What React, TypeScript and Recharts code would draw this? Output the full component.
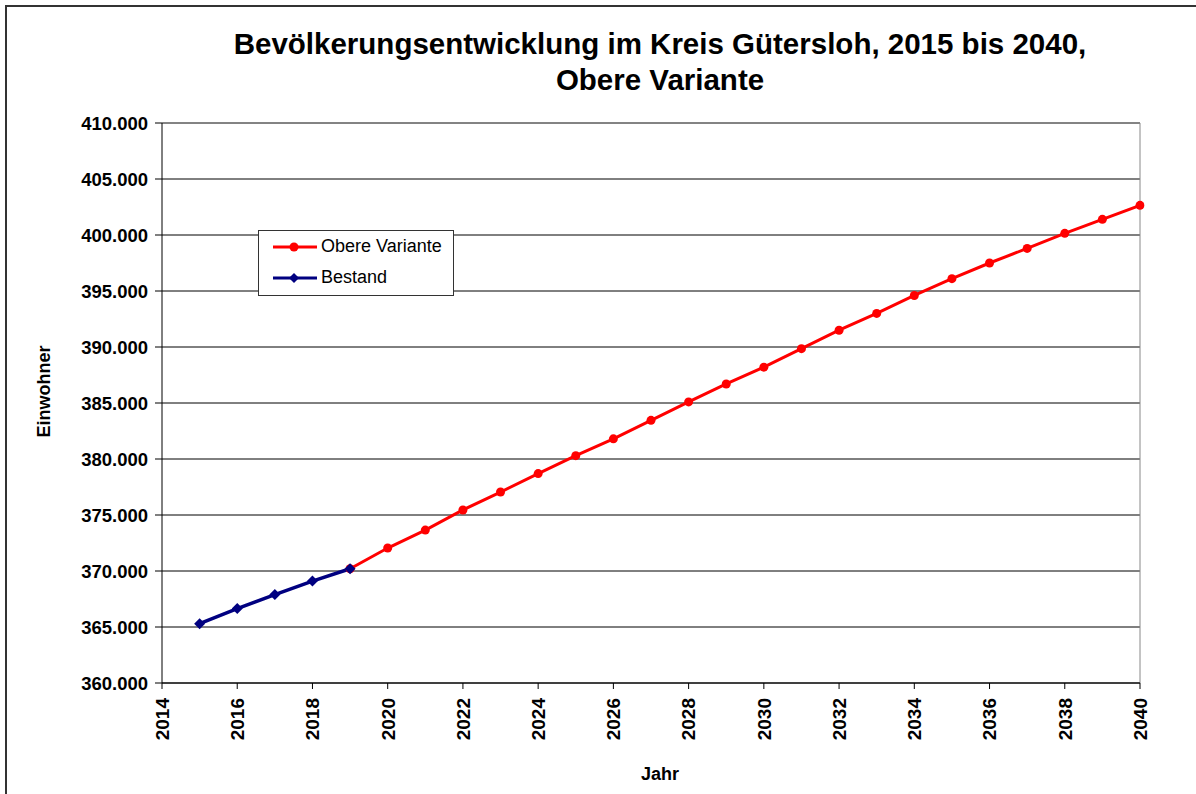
import React from 'react';
import {
    LineChart,
    Line,
    XAxis,
    YAxis,
    CartesianGrid,
    ReferenceLine,
} from 'recharts';

// Jahre 2015 - 2040
const years = [2015, 2016, 2017, 2018, 2019, 2020, 2021, 2022, 2023, 2024, 2025, 2026, 2027,
    2028, 2029, 2030, 2031, 2032, 2033, 2034, 2035, 2036, 2037, 2038, 2039, 2040];

// Bestand 2015 - 2019
const bestand = [365300, 366650, 367900, 369100, 370200];

// Obere Variante 2019 - 2040
const obereVariante = [370200, 372050, 373650, 375450, 377050, 378700, 380300, 381800, 383450,
    385100, 386700, 388200, 389850, 391500, 393000, 394600, 396100, 397500, 398800, 400150,
    401400, 402650];

const xTicks = [2014, 2016, 2018, 2020, 2022, 2024, 2026, 2028, 2030, 2032, 2034, 2036, 2038, 2040];
const yTicks = [360000, 365000, 370000, 375000, 380000, 385000, 390000, 395000, 400000, 405000, 410000];

const data = years.map((year, i) => ({
    year,
    bestand: i < bestand.length ? bestand[i] : null,
    obere: i >= 4 ? obereVariante[i - 4] : null,
}));

const FONT = 'Arial, "Liberation Sans", Helvetica, sans-serif';

const fmt = (v: number) => `${Math.floor(v / 1000)}.${String(v % 1000).padStart(3, '0')}`;

const XTick = ({x, y, payload}: any) => (
    <text x={x} y={y} transform={`rotate(-90 ${x} ${y})`} textAnchor="end" dy="0.36em"
          fontFamily={FONT} fontWeight="bold" fontSize={19} fill="#000">
        {payload.value}
    </text>
);

const Diamond = ({cx, cy}: any) => {
    if (cx == null || cy == null) return null;
    const s = 5.5;
    return <path d={`M${cx},${cy - s}L${cx + s},${cy}L${cx},${cy + s}L${cx - s},${cy}Z`} fill="#000080"/>;
};

const LegendRow = ({color, label, diamond}: any) => (
    <div style={{display: 'flex', alignItems: 'center', height: 31}}>
        <svg width={46} height={14} style={{marginLeft: 14}}>
            <line x1={0} y1={7} x2={44} y2={7} stroke={color} strokeWidth={3}/>
            {diamond
                ? <path d="M21,2L26,7L21,12L16,7Z" fill={color}/>
                : <circle cx={21} cy={7} r={4.5} fill={color}/>}
        </svg>
        <span style={{marginLeft: 2}}>{label}</span>
    </div>
);

const App = () => {
    return (
        <div style={{position: 'absolute', left: 0, top: 0, width: 1196, height: 794, fontFamily: FONT}}>
            <div style={{
                position: 'absolute', left: 5, top: 5, width: 1189, height: 789,
                borderTop: '2px solid #333', borderLeft: '2px solid #333'
            }}/>
            <div style={{
                position: 'absolute', left: 124, top: 26, width: 1072, textAlign: 'center',
                fontSize: 29.5, fontWeight: 'bold', lineHeight: '36px', color: '#000'
            }}>
                Bevölkerungsentwicklung im Kreis Gütersloh, 2015 bis 2040,<br/>Obere Variante
            </div>
            <div style={{
                position: 'absolute', left: 560, top: 764, width: 200, textAlign: 'center',
                fontSize: 18, fontWeight: 'bold'
            }}>Jahr</div>
            <div style={{
                position: 'absolute', left: -56, top: 381, width: 200, textAlign: 'center',
                fontSize: 18, fontWeight: 'bold', transform: 'rotate(-90deg)'
            }}>Einwohner</div>

            <div style={{position: 'absolute', left: 0, top: 0}}>
                <LineChart width={1196} height={794} data={data}
                           margin={{top: 123, right: 56, left: 0, bottom: 0}}>
                    <CartesianGrid vertical={false} stroke="#000"/>
                    <XAxis dataKey="year" type="number" domain={[2014, 2040]} ticks={xTicks}
                           interval={0} height={111} tickSize={6} tickMargin={9}
                           stroke="#000" tick={<XTick/>} allowDataOverflow/>
                    <YAxis type="number" domain={[360000, 410000]} ticks={yTicks} width={162}
                           tickSize={7} tickMargin={7} stroke="#000" tickFormatter={fmt}
                           tick={{fill: '#000', fontSize: 18.5, fontWeight: 'bold', fontFamily: FONT}}
                           interval={0}/>
                    <ReferenceLine y={410000} stroke="#888"/>
                    <ReferenceLine x={2040} stroke="#888"/>
                    <Line dataKey="obere" stroke="#ff0000" strokeWidth={3}
                          dot={{r: 4.5, fill: '#ff0000', stroke: '#ff0000', strokeWidth: 0, clipDot: false}}
                          isAnimationActive={false} connectNulls={false}/>
                    <Line dataKey="bestand" stroke="#000080" strokeWidth={3.5}
                          dot={<Diamond/>} isAnimationActive={false} connectNulls={false}/>
                </LineChart>
            </div>

            <div style={{
                position: 'absolute', left: 258, top: 230, width: 194, height: 64,
                border: '1px solid #333', background: '#fff', fontSize: 18, color: '#000'
            }}>
                <LegendRow color="#ff0000" label="Obere Variante"/>
                <LegendRow color="#000080" label="Bestand" diamond/>
            </div>
        </div>
    );
};

export default App;
